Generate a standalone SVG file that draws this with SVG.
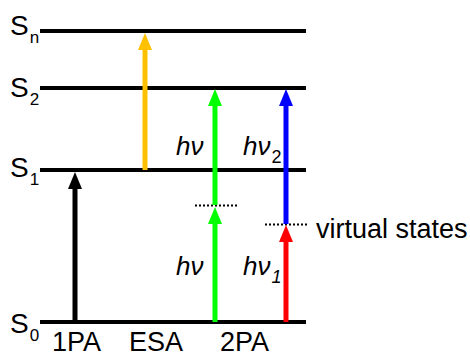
<svg xmlns="http://www.w3.org/2000/svg" width="470" height="356" viewBox="0 0 470 356">
<style>
.lvl{stroke:#000;stroke-width:4;fill:none}
.dot{stroke:#000;stroke-width:2;stroke-dasharray:2,2;fill:none}
.t{font-family:"Liberation Sans",Arial,sans-serif;font-size:27px;fill:#000}
.s{font-size:28px}
.h{font-size:26px}
.sub{font-size:18px}
.ss{font-size:17px}
.it{font-style:italic}
.shaft{stroke-width:5;fill:none}
</style>
<rect width="470" height="356" fill="#fff"/>
<g id="levels">
<g id="Sn"><line class="lvl" x1="40" y1="31" x2="306" y2="31"/><text class="t s" x="10" y="35">S<tspan class="ss" dx="1" dy="8">n</tspan></text></g>
<g id="S2"><line class="lvl" x1="40" y1="88" x2="306" y2="88"/><text class="t s" x="10" y="97">S<tspan class="ss" dx="1" dy="8">2</tspan></text></g>
<g id="S1"><line class="lvl" x1="40" y1="170" x2="306" y2="170"/><text class="t s" x="10" y="177">S<tspan class="ss" dx="1" dy="8">1</tspan></text></g>
<g id="S0"><line class="lvl" x1="40" y1="322" x2="306" y2="322"/><text class="t s" x="10" y="333">S<tspan class="ss" dx="1" dy="8">0</tspan></text></g>
</g>
<g id="virtual">
<line class="dot" x1="195" y1="205.5" x2="237" y2="205.5"/>
<line class="dot" x1="265" y1="224.5" x2="308" y2="224.5"/>
<text class="t" x="316" y="238">virtual states</text>
</g>
<g id="connectors">
<g id="a1PA" fill="#000" stroke="#000"><line class="shaft" x1="75" y1="322" x2="75" y2="186"/><polygon stroke="none" points="75,172 68,189 82,189"/></g>
<g id="aESA" fill="#ffc000" stroke="#ffc000"><line class="shaft" x1="145" y1="170" x2="145" y2="47"/><polygon stroke="none" points="145,33 138,50 152,50"/></g>
<g id="aG1" fill="#00ff00" stroke="#00ff00"><line class="shaft" x1="215" y1="322" x2="215" y2="221"/><polygon stroke="none" points="215,207 208,224 222,224"/></g>
<g id="aG2" fill="#00ff00" stroke="#00ff00"><line class="shaft" x1="215" y1="205" x2="215" y2="103"/><polygon stroke="none" points="215,89 208,106 222,106"/></g>
<g id="aR" fill="#ff0000" stroke="#ff0000"><line class="shaft" x1="286" y1="322" x2="286" y2="239"/><polygon stroke="none" points="286,225 279,242 293,242"/></g>
<g id="aB" fill="#0000ff" stroke="#0000ff"><line class="shaft" x1="286" y1="224" x2="286" y2="103"/><polygon stroke="none" points="286,89 279,106 293,106"/></g>
</g>
<g id="labels">
<text class="t h it" x="176" y="155">hν</text>
<text class="t h it" x="243" y="155">hν<tspan class="sub" dx="1" dy="8" font-style="normal">2</tspan></text>
<text class="t h it" x="176" y="275">hν</text>
<text class="t h it" x="243" y="275">hν<tspan class="sub" dx="1" dy="8">1</tspan></text>
<text class="t" x="52" y="351">1PA</text>
<text class="t" x="129" y="351">ESA</text>
<text class="t" x="220" y="351">2PA</text>
</g>
</svg>
